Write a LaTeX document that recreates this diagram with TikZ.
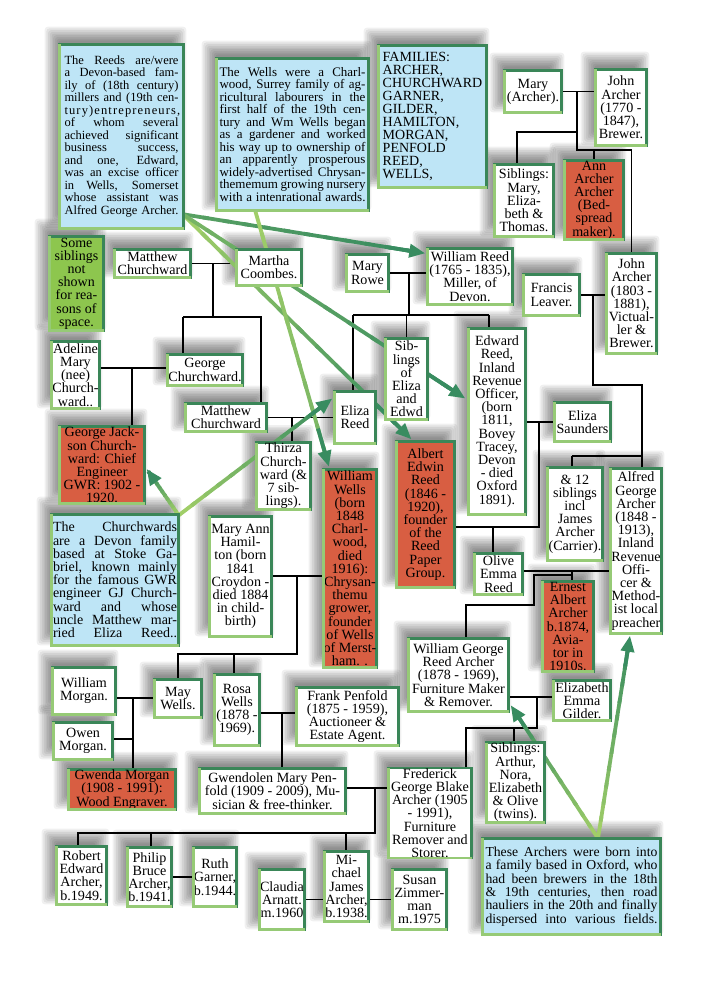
\documentclass[tikz,border=0pt]{standalone}
\usepackage{fontspec}
\setmainfont{Liberation Serif}
\usetikzlibrary{calc,arrows.meta}
\definecolor{bdark}{RGB}{58,134,88}
\definecolor{blight}{RGB}{150,202,118}
\definecolor{redf}{RGB}{216,94,66}
\definecolor{bluef}{RGB}{190,229,246}
\definecolor{greenf}{RGB}{141,198,78}
\definecolor{glight}{RGB}{160,206,104}
\definecolor{gdark}{RGB}{56,140,96}
\lineskiplimit=-100pt
\lineskip=0pt
\newcommand\pf{\fontsize{14.1}{13.2}\selectfont\lineskiplimit=-100pt }
\newcommand\jl[1]{\hbox to\hsize{#1}}
\newcommand\jt[2]{\vbox{\hsize=#1pt\relax #2}}
\newcommand\bx[7]{\node[#1,minimum width={#5-#3-2.6},minimum height={#6-#4-2.6},phase] (#2) at ({(#3+#5)/2},{(#4+#6)/2}) {#7};}
\newcommand\gline[4]{%
  \foreach \i in {0,...,11}{%
    \pgfmathsetmacro\gta{\i/12}%
    \pgfmathsetmacro\gtb{min((\i+1.3)/12,0.95)}%
    \pgfmathtruncatemacro\gcc{#3+(#4-(#3))*\i/11}%
    \draw[line width=3.8pt,glight!\gcc!gdark] ($(#1)!\gta!(#2)$) -- ($(#1)!\gtb!(#2)$);}%
  \draw[line width=3.8pt,gdark,-{Triangle[length=16pt,width=13pt]}] ($(#1)!0.85!(#2)$) -- (#2);}
\newcommand\names{reeds,wells,fam,church,archn,some,maryarcher,johnA,sibsM,ann,matthewA,martha,maryrowe,wreed,francis,johnB,adeline,george,sibsE,edward,esaunders,matthewB,elizareed,gjc,thirza,wwells,albert,sibsX,alfred,maryann,olive,ernest,wgra,gilder,wmorgan,owen,may,gwenda,rosa,frank,gwendolen,sibsA,frederick,robert,philip,ruth,claudia,michael,susan}
\newcommand\allboxes{%
\bx{box,nbox}{reeds}{58}{43}{185}{230}{\fontsize{12.5}{12.5}\selectfont\jt{114}{\jl{The Reeds are/were}\jl{a Devon-based fam-}\jl{ily of (18th century)}\jl{millers and (19th cen-}\jl{{\addfontfeature{LetterSpace=9}tury)entrepreneurs,}}\jl{of whom several}\jl{achieved significant}\jl{business success,}\jl{and one, Edward,}\jl{was an excise officer}\jl{in Wells, Somerset}\jl{whose assistant was}\jl{Alfred George Archer.}}}
\bx{box,nbox}{wells}{215}{57}{370}{212}{\fontsize{13}{12.5}\selectfont\jt{146}{\jl{The Wells were a Charl-}\jl{wood, Surrey family of ag-}\jl{ricultural labourers in the}\jl{first half of the 19th cen-}\jl{tury and Wm Wells began}\jl{as a gardener and worked}\jl{his way up to ownership of}\jl{an apparently prosperous}\jl{widely-advertised Chrysan-}\jl{thememum growing nursery}\jl{with a intenrational awards.}}}
\bx{box,nbox,align=left,font={\fontsize{14}{13}\selectfont}}{fam}{377}{44}{488}{189}{FAMILIES:\\ARCHER,\\CHURCHWARD\\GARNER,\\GILDER,\\HAMILTON,\\MORGAN,\\PENFOLD\\REED,\\WELLS,}
\bx{box,nbox}{church}{50}{513}{180}{647}{\fontsize{14}{13.2}\selectfont\jt{124}{\jl{The Churchwards}\jl{are a Devon family}\jl{based at Stoke Ga-}\jl{briel, known mainly}\jl{for the famous GWR}\jl{engineer GJ Church-}\jl{ward and whose}\jl{uncle Matthew mar-}\jl{ried Eliza Reed..}}}
\bx{box,nbox}{archn}{481}{837}{662}{936}{\fontsize{13.7}{13.3}\selectfont\jt{172}{\jl{These Archers were born into}\jl{a family based in Oxford, who}\jl{had been brewers in the 18th}\jl{\& 19th centuries, then road}\jl{hauliers in the 20th and finally}\jl{dispersed into various fields.}}}
\bx{box,gbox,font={\fontsize{14}{13.2}\selectfont}}{some}{48}{235}{105}{332}{Some\\siblings\\not\\shown\\for rea-\\sons of\\space.}
\bx{box}{maryarcher}{503}{69}{563}{114}{Mary\\(Archer).}
\bx{box}{johnA}{594}{68}{648}{147}{John\\Archer\\(1770 -\\1847),\\Brewer.}
\bx{box}{sibsM}{493}{163}{555}{238}{Siblings:\\Mary,\\Eliza-\\beth \&\\Thomas.}
\bx{box,rbox}{ann}{563}{159}{625}{241}{Ann\\Archer\\Archer\\(Bed-\\spread\\maker).}
\bx{box}{matthewA}{113}{248}{192}{279}{Matthew\\Churchward}
\bx{box}{martha}{235}{248}{303}{287}{Martha\\Coombes.}
\bx{box}{maryrowe}{345}{253}{390}{293}{Mary\\Rowe}
\bx{box}{wreed}{426}{247}{514}{306}{William Reed\\(1765 - 1835),\\Miller, of\\Devon.}
\bx{box}{francis}{522}{273}{581}{317}{Francis\\Leaver.}
\bx{box}{johnB}{605}{252}{658}{355}{John\\Archer\\(1803 -\\1881),\\Victual-\\ler \&\\Brewer.}
\bx{box}{adeline}{50}{340}{101}{410}{Adeline\\Mary\\(nee)\\Church-\\ward..}
\bx{box}{george}{166}{353}{244}{387}{George\\Churchward.}
\bx{box}{sibsE}{384}{337}{429}{421}{Sib-\\lings\\of\\Eliza\\and\\Edwd}
\bx{box}{edward}{467}{327}{527}{516}{Edward\\Reed,\\Inland\\Revenue\\Officer,\\(born\\1811,\\Bovey\\Tracey,\\Devon\\- died\\Oxford\\1891).}
\bx{box}{esaunders}{553}{401}{612}{443}{Eliza\\Saunders}
\bx{box}{matthewB}{184}{402}{268}{433}{Matthew\\Churchward}
\bx{box}{elizareed}{333}{390}{377}{445}{Eliza\\Reed}
\bx{box,rbox}{gjc}{58}{425}{146}{505}{George Jack-\\son Church-\\ward: Chief\\Engineer\\GWR: 1902 -\\1920.}
\bx{box}{thirza}{255}{442}{312}{510}{Thirza\\Church-\\ward (\&\\7 sib-\\lings).}
\bx{box,rbox}{wwells}{323}{468}{377}{669}{William\\Wells\\(born\\1848\\Charl-\\wood,\\died\\1916):\\Chrysan-\\themu\\grower,\\founder\\of Wells\\of Merst-\\ham. .}
\bx{box,rbox}{albert}{395}{440}{456}{589}{Albert\\Edwin\\Reed\\(1846 -\\1920),\\founder\\of the\\Reed\\Paper\\Group.}
\bx{box}{sibsX}{546}{466}{604}{562}{\& 12\\siblings\\incl\\James\\Archer\\(Carrier).}
\bx{box}{alfred}{609}{467}{663}{635}{Alfred\\George\\Archer\\(1848 -\\1913),\\Inland\\Revenue\\Offi-\\cer \&\\Method-\\ist local\\preacher}
\bx{box}{maryann}{208}{515}{273}{638}{Mary Ann\\Hamil-\\ton (born\\1841\\Croydon -\\died 1884\\in child-\\birth)}
\bx{box}{olive}{473}{552}{524}{596}{Olive\\Emma\\Reed}
\bx{box,rbox}{ernest}{541}{580}{595}{673}{Ernest\\Albert\\Archer\\b.1874,\\Avia-\\tor in\\1910s.}
\bx{box}{wgra}{407}{637}{510}{713}{William George\\Reed Archer\\(1878 - 1969),\\Furniture Maker\\\& Remover.}
\bx{box}{gilder}{552}{679}{612}{722}{Elizabeth\\Emma\\Gilder.}
\bx{box}{wmorgan}{51}{666}{117}{716}{William\\Morgan.}
\bx{box}{owen}{52}{721}{114}{761}{Owen\\Morgan.}
\bx{box}{may}{153}{678}{203}{719}{May\\Wells.}
\bx{box,rbox}{gwenda}{67}{769}{177}{810}{Gwenda Morgan\\(1908 - 1991):\\Wood Engraver.}
\bx{box}{rosa}{213}{673}{261}{747}{Rosa\\Wells\\(1878 -\\1969).}
\bx{box}{frank}{295}{686}{400}{747}{Frank Penfold\\(1875 - 1959),\\Auctioneer \&\\Estate Agent.}
\bx{box}{gwendolen}{198}{767}{347}{815}{Gwendolen Mary Pen-\\fold (1909 - 2009), Mu-\\sician \& free-thinker.}
\bx{box}{sibsA}{485}{742}{546}{823}{Siblings:\\Arthur,\\Nora,\\Elizabeth\\\& Olive\\(twins).}
\bx{box}{frederick}{387}{767}{473}{859}{Frederick\\George Blake\\Archer (1905\\- 1991),\\Furniture\\Remover and\\Storer.}
\bx{box}{robert}{55}{845}{108}{906}{Robert\\Edward\\Archer,\\b.1949.}
\bx{box}{philip}{126}{846}{173}{908}{Philip\\Bruce\\Archer,\\b.1941.}
\bx{box}{ruth}{192}{846}{238}{908}{Ruth\\Garner,\\b.1944.}
\bx{box}{claudia}{258}{868}{306}{931}{Claudia\\Arnatt.\\m.1960}
\bx{box}{michael}{323}{850}{370}{923}{Mi-\\chael\\James\\Archer,\\b.1938.}
\bx{box}{susan}{391}{868}{448}{931}{Susan\\Zimmer-\\man\\m.1975}
}
\tikzset{
  box/.style={draw=bdark,line width=2.6pt,fill=white,inner xsep=0.3pt,inner ysep=0.5pt,outer sep=0pt,align=center,font=\pf},
  rbox/.style={fill=redf},
  nbox/.style={fill=bluef},
  gbox/.style={fill=greenf},
  famline/.style={line width=1.3pt,black}
}
\begin{document}
\begin{tikzpicture}[x=1pt,y=-1pt]
\useasboundingbox (0,0) rectangle (711,1005);
\fill[white] (0,0) rectangle (711,1005);
% pass 1: invisible nodes (geometry only)
\tikzset{phase/.style={draw=none,fill=none,text opacity=0}}
\allboxes
% soft shadows
\foreach \n in \names {%
  \foreach \k in {0,...,8}{%
    \pgfmathsetmacro\sm{-5+1.7*\k}%
    \fill[black,opacity=0.06,rounded corners=3pt] ($(\n.north west)+({-6-(\sm)},{-9-(\sm)})$) rectangle ($(\n.south east)+({-6+(\sm)},{-9+(\sm)})$);}}
% family lines
\begin{scope}[famline]
\coordinate (ja) at (577,91.5);
\coordinate (jb) at (577,150);
\coordinate (jc) at (577,132);
\coordinate (jd) at (517,132);
\draw (maryarcher.east) -- (maryarcher.east -| johnA.west);
\draw (ja) -- (jb) -| (johnB.north);
\draw (ann.north) -- (ann.north |- jb);
\draw (jc) -- (jd) -- (jd |- sibsM.north);
\coordinate (r1) at (409,273);
\coordinate (r2) at (409,315);
\coordinate (r3) at (353,315);
\coordinate (r4) at (489,315);
\draw (maryrowe.east) -- (maryrowe.east -| wreed.west);
\draw (r1) -- (r2);
\draw (r3) -- (r4);
\draw (r3) -- (r3 |- elizareed.north);
\draw (sibsE.north) -- (sibsE.north |- r2);
\draw (r4) -- (r4 |- edward.north);
\coordinate (f1) at (593,295);
\coordinate (f2) at (593,385);
\coordinate (f3) at (642,385);
\coordinate (f4) at (642,456);
\coordinate (f5) at (572,456);
\draw (francis.east) -- (francis.east -| johnB.west);
\draw (f1) -- (f2) -- (f3) -- (f4) -- (f4 |- alfred.north);
\draw (f5) -- (f4);
\draw (f5) -- (f5 |- sibsX.north);
\coordinate (e1) at (539,422);
\coordinate (e2) at (539,527);
\coordinate (e4) at (493,527);
\draw (edward.east |- e1) -- (esaunders.west |- e1);
\draw (e1) -- (e2) -- (albert.east |- e2);
\draw (e4) -- (e4 |- olive.north);
\coordinate (o1) at (572,571);
\coordinate (o2) at (534,575);
\coordinate (o3) at (572,575);
\coordinate (o4) at (534,605);
\coordinate (o5) at (466,605);
\draw (olive.east |- o1) -- (alfred.west |- o1);
\draw (o1) -- (o1 |- ernest.north);
\draw (o3) -- (o2) -- (o4) -- (o5) -- (o5 |- wgra.north);
\coordinate (g1) at (537,697);
\coordinate (g2) at (537,728);
\coordinate (g3) at (466,728);
\coordinate (g4) at (514,728);
\draw (wgra.east |- g1) -- (gilder.west |- g1);
\draw (g1) -- (g2) -- (g3) -- (g3 |- frederick.north);
\draw (g4) -- (g4 |- sibsA.north);
\coordinate (h1) at (375,788);
\coordinate (h2) at (375,833);
\coordinate (h3) at (78,833);
\coordinate (h4) at (151,833);
\coordinate (h5) at (346,833);
\draw (gwendolen.east |- h1) -- (frederick.west |- h1);
\draw (h1) -- (h2) -- (h3) -- (h3 |- robert.north);
\draw (h4) -- (h4 |- philip.north);
\draw (h5) -- (h5 |- michael.north);
\draw (philip.east) -- (ruth.west);
\draw (claudia.east) -- (claudia.east -| michael.west);
\draw (michael.east |- susan.west) -- (susan.west);
\coordinate (c1) at (213,264);
\coordinate (c2) at (213,317);
\coordinate (c3) at (183,317);
\coordinate (c4) at (261,317);
\coordinate (c5) at (132,368);
\coordinate (c6) at (292,417.5);
\draw (matthewA.east) -- (matthewA.east -| martha.west);
\draw (c1) -- (c2);
\draw (c3) -- (c4) -- (c4 |- matthewB.north);
\draw (c3) -- (c3 |- george.north);
\draw (adeline.east |- c5) -- (george.west |- c5);
\draw (c5) -- (c5 |- gjc.north);
\draw (matthewB.east) -- (matthewB.east -| elizareed.west);
\draw (c6) -- (c6 |- thirza.north);
\coordinate (w1) at (297,576);
\coordinate (w2) at (297,654);
\coordinate (w3) at (178,654);
\coordinate (w4) at (234,654);
\draw (maryann.east |- w1) -- (wwells.west |- w1);
\draw (w1) -- (w2) -- (w3) -- (w3 |- may.north);
\draw (w4) -- (w4 |- rosa.north);
\coordinate (m1) at (133,698);
\coordinate (m2) at (133,739);
\draw (wmorgan.east |- m1) -- (may.west |- m1);
\draw (m1) -- (m1 |- gwenda.north);
\draw (owen.east |- m2) -- (m2);
\coordinate (k1) at (282,713);
\draw (rosa.east |- k1) -- (frank.west |- k1);
\draw (k1) -- (k1 |- gwendolen.north);
\end{scope}
% green note connectors
\coordinate (rn) at ($(reeds.south east)+(-1,-14.5)$);
\coordinate (wrT) at ($(wreed.north west)+(-2,5)$);
\coordinate (alT) at ($(albert.north)+(-14,-2)$);
\coordinate (edT) at ($(edward.west)+(-3,-23)$);
\coordinate (wn) at ($(wells.south)+(-37,1)$);
\coordinate (wwT) at ($(wwells.north)+(-21,-2.5)$);
\coordinate (cn) at ($(church.north east)+(0,1)$);
\coordinate (gjT) at ($(gjc.east)+(2,4)$);
\coordinate (erT) at ($(elizareed.west)+(-2,-19)$);
\coordinate (an) at ($(archn.north)+(26.5,0)$);
\coordinate (wgT) at ($(wgra.south east)+(2,-6.5)$);
\coordinate (afT) at ($(alfred.south)+(-6,2)$);
\gline{rn}{wrT}{30}{0}
\gline{rn}{alT}{100}{0}
\gline{rn}{edT}{60}{0}
\gline{wn}{wwT}{100}{60}
\gline{cn}{gjT}{100}{0}
\gline{cn}{erT}{100}{0}
\gline{an}{wgT}{100}{0}
\gline{an}{afT}{100}{0}
% pass 2: visible boxes
\tikzset{phase/.style={}}
\allboxes
\foreach \n in \names {\draw[blight,line width=2.6pt] (\n.north west) -- (\n.south west) -- (\n.south east);}
\end{tikzpicture}
\end{document}
